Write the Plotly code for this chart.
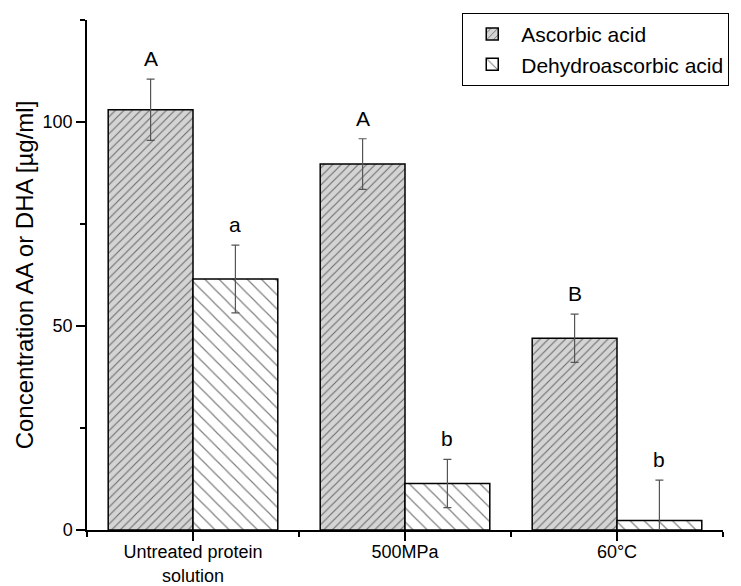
import plotly.graph_objects as go

categories = ["Untreated protein<br>solution", "500MPa", "60°C"]
aa_values = [103.0, 89.7, 47.0]
aa_errors = [7.5, 6.2, 5.9]
dha_values = [61.5, 11.4, 2.3]
dha_errors = [8.3, 5.9, 9.9]
aa_letters = ["A", "A", "B"]
dha_letters = ["a", "b", "b"]

xpos = list(range(len(categories)))
FONT = "Arial, Liberation Sans, sans-serif"

fig = go.Figure()
fig.add_trace(go.Bar(
    name="Ascorbic acid", x=xpos, y=aa_values,
    error_y=dict(type="data", array=aa_errors, color="#555555", thickness=1.2, width=4),
    marker=dict(color="#d4d4d4", line=dict(color="black", width=1.5),
                pattern=dict(shape="/", size=6, solidity=0.18, fgcolor="black", bgcolor="#d4d4d4")),
    offsetgroup="aa",
))
fig.add_trace(go.Bar(
    name="Dehydroascorbic acid", x=xpos, y=dha_values,
    error_y=dict(type="data", array=dha_errors, color="#555555", thickness=1.2, width=4),
    marker=dict(color="white", line=dict(color="black", width=1.5),
                pattern=dict(shape="\\", size=10, solidity=0.12, fgcolor="black", bgcolor="white")),
    offsetgroup="dha",
))

for i in xpos:
    fig.add_annotation(x=i - 0.2, y=aa_values[i] + aa_errors[i], text=aa_letters[i],
                       showarrow=False, yanchor="bottom", yshift=7, font=dict(size=21, color="black", family=FONT))
    fig.add_annotation(x=i + 0.2, y=dha_values[i] + dha_errors[i], text=dha_letters[i],
                       showarrow=False, yanchor="bottom", yshift=7, font=dict(size=21, color="black", family=FONT))

fig.update_layout(
    width=741, height=586,
    margin=dict(l=87, r=18, t=20, b=56, autoexpand=False),
    paper_bgcolor="white", plot_bgcolor="white",
    barmode="group", bargap=0.2, bargroupgap=0,
    font=dict(family=FONT, size=18, color="black"),
    showlegend=True,
    legend=dict(x=0.59, y=1.014, xanchor="left", yanchor="top",
                bordercolor="black", borderwidth=1, bgcolor="white",
                font=dict(size=21, family=FONT), traceorder="normal",
                tracegroupgap=0, itemwidth=48),
    xaxis=dict(range=[-0.5, 2.5], tickvals=xpos, ticktext=categories,
               showline=True, linecolor="black", linewidth=1.5, showgrid=False, zeroline=False,
               ticks="outside", ticklen=9, tickwidth=1.5, tickcolor="black",
               minor=dict(tickvals=[-0.5, 0.5, 1.5, 2.5], ticks="outside", ticklen=5, tickwidth=1.5, tickcolor="black"),
               tickfont=dict(size=18, family=FONT), ticklabelstandoff=-4),
    yaxis=dict(range=[0, 125], tickvals=[0, 50, 100],
               showline=True, linecolor="black", linewidth=1.5, showgrid=False, zeroline=False,
               ticks="outside", ticklen=9, tickwidth=1.5, tickcolor="black",
               minor=dict(tickvals=[25, 75, 125], ticks="outside", ticklen=5, tickwidth=1.5, tickcolor="black"),
               tickfont=dict(size=18, family=FONT),
               title=dict(text="Concentration AA or DHA [µg/ml]", font=dict(size=24, family=FONT), standoff=2)),
)

fig.write_html("out.html")
